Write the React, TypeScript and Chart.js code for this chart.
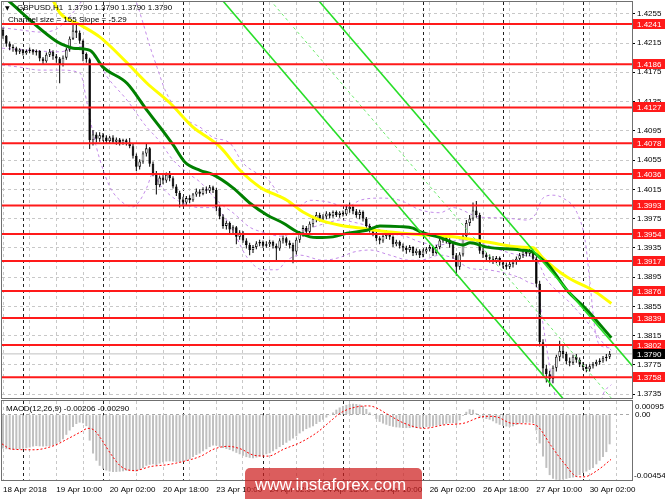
import React, { useEffect, useRef } from "react";
import { Chart, registerables } from "chart.js";

Chart.register(...registerables);

// ---------------- data ----------------
const firstOpen = 1.4233;
const closes = [
  1.4225, 1.4214, 1.4210, 1.4208, 1.4203, 1.4206, 1.4201, 1.4204, 1.4206, 1.4202,
  1.4204, 1.4194, 1.4190, 1.4199, 1.4203, 1.4197, 1.4194, 1.4186, 1.4195, 1.4206,
  1.4221, 1.4232, 1.4229, 1.4218, 1.4200, 1.4193, 1.4082, 1.4090, 1.4084, 1.4089,
  1.4086, 1.4081, 1.4086, 1.4080, 1.4083, 1.4078, 1.4082, 1.4079, 1.4074, 1.4061,
  1.4046, 1.4053, 1.4064, 1.4071, 1.4050, 1.4037, 1.4021, 1.4031, 1.4027, 1.4035,
  1.4030, 1.4019, 1.4010, 1.4001, 1.3997, 1.4003, 1.4000, 1.4008, 1.4012, 1.4009,
  1.4015, 1.4013, 1.4018, 1.4014, 1.3990, 1.3978, 1.3965, 1.3969, 1.3960, 1.3963,
  1.3950, 1.3956, 1.3945, 1.3939, 1.3932, 1.3936, 1.3941, 1.3943, 1.3938, 1.3940,
  1.3943, 1.3938, 1.3934, 1.3945, 1.3948, 1.3942, 1.3939, 1.3930, 1.3946, 1.3955,
  1.3962, 1.3957, 1.3968, 1.3975, 1.3980, 1.3975, 1.3978, 1.3982, 1.3979, 1.3984,
  1.3980, 1.3983, 1.3981, 1.3988, 1.3991, 1.3985, 1.3980, 1.3984, 1.3975, 1.3965,
  1.3960, 1.3955, 1.3948, 1.3945, 1.3951, 1.3956, 1.3950, 1.3940, 1.3943, 1.3938,
  1.3935, 1.3932, 1.3936, 1.3928, 1.3931, 1.3925, 1.3930, 1.3933, 1.3936, 1.3928,
  1.3936, 1.3945, 1.3951, 1.3946, 1.3940, 1.3925, 1.3909, 1.3926, 1.3951, 1.3969,
  1.3975, 1.3986, 1.3980, 1.3931, 1.3926, 1.3922, 1.3920, 1.3917, 1.3921, 1.3915,
  1.3912, 1.3909, 1.3913, 1.3916, 1.3920, 1.3925, 1.3930, 1.3927, 1.3931, 1.3920,
  1.3886, 1.3806, 1.3770, 1.3762, 1.3756, 1.3771, 1.3786, 1.3794, 1.3790, 1.3780,
  1.3778, 1.3786, 1.3782, 1.3776, 1.3772, 1.3769, 1.3773, 1.3776, 1.3779, 1.3781,
  1.3784, 1.3786, 1.3790,
];
const highs = [
  1.4236, 1.4226, 1.4217, 1.4213, 1.4210, 1.4208, 1.4207, 1.4206, 1.4209, 1.4207,
  1.4206, 1.4205, 1.4196, 1.4202, 1.4207, 1.4205, 1.4200, 1.4196, 1.4198, 1.4209,
  1.4224, 1.4243, 1.4240, 1.4232, 1.4220, 1.4202, 1.4195, 1.4096, 1.4093, 1.4093,
  1.4092, 1.4089, 1.4088, 1.4089, 1.4086, 1.4085, 1.4084, 1.4084, 1.4085, 1.4077,
  1.4064, 1.4056, 1.4067, 1.4078, 1.4073, 1.4053, 1.4040, 1.4034, 1.4035, 1.4038,
  1.4040, 1.4033, 1.4022, 1.4013, 1.4005, 1.4006, 1.4007, 1.4010, 1.4016, 1.4015,
  1.4018, 1.4019, 1.4021, 1.4020, 1.4017, 1.3993, 1.3981, 1.3972, 1.3971, 1.3966,
  1.3965, 1.3959, 1.3958, 1.3948, 1.3942, 1.3939, 1.3944, 1.3946, 1.3945, 1.3944,
  1.3946, 1.3945, 1.3941, 1.3948, 1.3952, 1.3950, 1.3945, 1.3942, 1.3949, 1.3958,
  1.3966, 1.3965, 1.3971, 1.3979, 1.3984, 1.3983, 1.3981, 1.3985, 1.3984, 1.3986,
  1.3986, 1.3985, 1.3986, 1.3994, 1.3997, 1.3993, 1.3988, 1.3987, 1.3986, 1.3977,
  1.3968, 1.3963, 1.3958, 1.3951, 1.3954, 1.3959, 1.3958, 1.3952, 1.3946, 1.3945,
  1.3941, 1.3938, 1.3939, 1.3937, 1.3934, 1.3933, 1.3933, 1.3936, 1.3939, 1.3938,
  1.3939, 1.3948, 1.3954, 1.3953, 1.3948, 1.3942, 1.3928, 1.3929, 1.3954, 1.3973,
  1.3980, 1.3997, 1.3999, 1.3983, 1.3935, 1.3929, 1.3926, 1.3924, 1.3924, 1.3923,
  1.3918, 1.3915, 1.3916, 1.3919, 1.3923, 1.3928, 1.3933, 1.3934, 1.3936, 1.3933,
  1.3923, 1.3890, 1.3810, 1.3775, 1.3767, 1.3774, 1.3789, 1.3808, 1.3801, 1.3793,
  1.3785, 1.3789, 1.3790, 1.3785, 1.3779, 1.3776, 1.3776, 1.3779, 1.3782, 1.3784,
  1.3787, 1.3790, 1.3794,
];
const lows = [
  1.4221, 1.4210, 1.4205, 1.4203, 1.4199, 1.4200, 1.4198, 1.4199, 1.4201, 1.4199,
  1.4198, 1.4190, 1.4186, 1.4188, 1.4196, 1.4192, 1.4188, 1.4160, 1.4183, 1.4192,
  1.4203, 1.4219, 1.4222, 1.4214, 1.4190, 1.4188, 1.4070, 1.4075, 1.4079, 1.4080,
  1.4081, 1.4077, 1.4078, 1.4077, 1.4076, 1.4075, 1.4076, 1.4075, 1.4071, 1.4057,
  1.4040, 1.4042, 1.4050, 1.4060, 1.4046, 1.4033, 1.4008, 1.4018, 1.4022, 1.4024,
  1.4026, 1.4016, 1.4006, 1.3990, 1.3992, 1.3994, 1.3996, 1.3998, 1.4005, 1.4005,
  1.4007, 1.4009, 1.4010, 1.4010, 1.3985, 1.3974, 1.3961, 1.3960, 1.3955, 1.3955,
  1.3940, 1.3946, 1.3942, 1.3934, 1.3925, 1.3928, 1.3933, 1.3937, 1.3935, 1.3935,
  1.3936, 1.3934, 1.3918, 1.3931, 1.3941, 1.3938, 1.3934, 1.3914, 1.3926, 1.3942,
  1.3950, 1.3953, 1.3954, 1.3963, 1.3970, 1.3971, 1.3972, 1.3974, 1.3975, 1.3976,
  1.3977, 1.3976, 1.3978, 1.3979, 1.3983, 1.3981, 1.3976, 1.3974, 1.3971, 1.3961,
  1.3956, 1.3951, 1.3944, 1.3940, 1.3942, 1.3947, 1.3946, 1.3936, 1.3937, 1.3934,
  1.3930, 1.3927, 1.3929, 1.3924, 1.3925, 1.3921, 1.3922, 1.3927, 1.3930, 1.3924,
  1.3926, 1.3933, 1.3942, 1.3941, 1.3935, 1.3920, 1.3897, 1.3905, 1.3923, 1.3947,
  1.3965, 1.3972, 1.3976, 1.3927, 1.3921, 1.3917, 1.3915, 1.3913, 1.3914, 1.3911,
  1.3907, 1.3905, 1.3906, 1.3908, 1.3912, 1.3917, 1.3921, 1.3923, 1.3924, 1.3916,
  1.3881, 1.3800, 1.3760, 1.3751, 1.3745, 1.3750, 1.3766, 1.3780, 1.3784, 1.3776,
  1.3773, 1.3775, 1.3778, 1.3772, 1.3768, 1.3765, 1.3766, 1.3770, 1.3773, 1.3775,
  1.3778, 1.3780, 1.3783,
];

const levels = [1.4241, 1.4186, 1.4127, 1.4078, 1.4036, 1.3993, 1.3954, 1.3917, 1.3876, 1.3839, 1.3802, 1.3758];
const lastPrice = 1.379;
const yTicks = [1.4255, 1.4215, 1.4175, 1.4135, 1.4095, 1.4055, 1.4015, 1.3975, 1.3935, 1.3895, 1.3855, 1.3815, 1.3775, 1.3735];
const timeLabels = ["18 Apr 2018", "19 Apr 10:00", "20 Apr 02:00", "20 Apr 18:00", "23 Apr 10:00", "24 Apr 02:00", "24 Apr 18:00", "25 Apr 10:00", "26 Apr 02:00", "26 Apr 18:00", "27 Apr 10:00", "30 Apr 02:00"];
const timeLabelBars = [0, 16, 32, 48, 64, 80, 96, 112, 128, 144, 160, 176];
const daySeparators = [6, 30, 54, 78, 102, 126, 150, 174];

// moving averages [bar, price]
const greenMA = [
  [-0.3, 1.4281], [2.1, 1.4271], [16.5, 1.4216], [19.5, 1.421], [21, 1.4208], [26.1, 1.4205], [30, 1.4182],
  [37.2, 1.416], [43.2, 1.4123], [47.1, 1.41], [51, 1.4076], [54.6, 1.4052], [59.1, 1.4041], [63, 1.4035],
  [69, 1.4017], [74.1, 1.3996], [79.2, 1.398], [84, 1.3969], [88.2, 1.3957], [92.1, 1.395], [94.2, 1.3949],
  [99, 1.395], [103.2, 1.3955], [109.2, 1.3959], [113.1, 1.3965], [119.1, 1.3964], [123, 1.3962], [125.1, 1.3957],
  [131.1, 1.3949], [138, 1.3939], [140.1, 1.3942], [145.2, 1.3936], [155.1, 1.3932], [159, 1.3929], [162, 1.3918],
  [163.2, 1.3914], [169.2, 1.3877], [175.2, 1.385], [182.5, 1.3812],
];
const yellowMA = [
  [14.1, 1.4282], [17.1, 1.4256], [23.1, 1.424], [29.1, 1.4223], [37.2, 1.4188], [43.2, 1.416], [50.1, 1.4133],
  [57, 1.41], [59.1, 1.4093], [65.1, 1.4073], [71.1, 1.4041], [77.1, 1.4018], [85.2, 1.4], [90, 1.3984],
  [95.1, 1.3973], [101.1, 1.3966], [107.1, 1.3962], [115.2, 1.3957], [125.1, 1.3953], [135, 1.395], [145.2, 1.3943],
  [155.1, 1.3936], [159, 1.3935], [162, 1.3921], [169.2, 1.3895], [177, 1.3877], [182.5, 1.3859],
];
// bollinger bands [bar, price]
const bbUpper = [
  [-0.3, 1.4236], [5.1, 1.4233], [11.1, 1.423], [15.6, 1.4233], [18.6, 1.4244], [21.6, 1.426], [24.6, 1.4277],
  [29.1, 1.4288], [35.1, 1.4285], [38.1, 1.4278], [39.6, 1.4274], [41.7, 1.4247], [44.1, 1.421], [46.2, 1.4182],
  [48.6, 1.4151], [52.2, 1.4123], [56.1, 1.4107], [59.1, 1.41], [63, 1.4086], [68.1, 1.4078], [72, 1.4051],
  [76.2, 1.4037], [79.2, 1.403], [83.1, 1.4007], [88.2, 1.3991], [92.1, 1.4], [97.2, 1.3998], [103.2, 1.3991],
  [107.1, 1.4], [113.1, 1.4003], [119.1, 1.4], [125.1, 1.3987], [131.1, 1.3983], [135, 1.399], [143.1, 1.3977],
  [150, 1.3976], [157.2, 1.3973], [159.6, 1.398], [162, 1.4003], [165, 1.4007], [168, 1.4003], [172.2, 1.3983],
  [174.6, 1.3946], [176.1, 1.3887], [177.6, 1.3823], [179.1, 1.3802], [182.5, 1.3798],
];
const bbMiddle = [
  [-0.3, 1.4208], [8.1, 1.4205], [17.1, 1.4203], [23.1, 1.421], [26.1, 1.4203], [29.1, 1.4185], [31.2, 1.4169],
  [37.2, 1.4137], [42.6, 1.4103], [47.1, 1.408], [51, 1.4055], [56.1, 1.4035], [59.1, 1.4025], [65.1, 1.3996],
  [69, 1.3983], [74.1, 1.3963], [79.2, 1.3955], [83.1, 1.3951], [87, 1.3955], [92.1, 1.3962], [97.2, 1.3969],
  [101.1, 1.3973], [106.2, 1.3969], [111, 1.3963], [116.1, 1.3955], [121.2, 1.395], [125.1, 1.3943], [131.1, 1.3939],
  [137.1, 1.3946], [143.1, 1.3942], [149.1, 1.3932], [155.1, 1.3925], [159.6, 1.3921], [163.2, 1.3891],
  [169.2, 1.3864], [175.2, 1.3834], [180.6, 1.3802], [182.5, 1.3795],
];
const bbLower = [
  [-0.3, 1.4185], [5.1, 1.4182], [11.1, 1.4178], [17.1, 1.4178], [23.1, 1.4174], [25.2, 1.4133], [27, 1.4092],
  [29.1, 1.4055], [32.1, 1.4018], [35.1, 1.4], [39, 1.3991], [41.1, 1.4], [43.2, 1.4018], [45, 1.4037],
  [47.1, 1.4021], [50.1, 1.4007], [54, 1.3996], [59.1, 1.399], [63, 1.399], [68.1, 1.3966], [73.2, 1.3922],
  [78, 1.3905], [82.2, 1.3905], [85.2, 1.3918], [89.1, 1.3925], [96, 1.3918], [101.1, 1.3922], [105, 1.3929],
  [110.1, 1.3932], [116.1, 1.3925], [122.1, 1.3918], [125.1, 1.3918], [131.1, 1.3925], [135, 1.3921],
  [140.1, 1.3907], [145.2, 1.3905], [149.1, 1.3902], [155.1, 1.3894], [158.1, 1.3887], [160.2, 1.3881],
  [161.7, 1.384], [163.2, 1.3795], [164.7, 1.3754], [165.9, 1.3727], [171.6, 1.3672], [177.6, 1.3686],
  [180, 1.3734], [182.5, 1.3748],
];
// regression channel anchors [bar, price]
const channelUpper = [[94.5, 1.4274], [197.2, 1.3729]];
const channelMiddle = [[80.1, 1.4274], [182.6, 1.3729]];
const channelLower = [[65.7, 1.4274], [168, 1.3729]];

// MACD
const macd = [
  -0.00235, -0.0024, -0.00242, -0.00243, -0.00242, -0.0024, -0.00237, -0.00233, -0.00228, -0.00222,
  -0.00218, -0.0022, -0.00222, -0.0022, -0.00218, -0.00215, -0.00205, -0.0019, -0.0017,
  -0.0014, -0.0011, -0.00085, -0.00065, -0.00055, -0.0006, -0.0008,
  -0.0018, -0.0027, -0.0032, -0.00355, -0.00375, -0.00388, -0.00395, -0.00398, -0.00398, -0.00396,
  -0.00393, -0.0039, -0.00388, -0.00392, -0.00395, -0.00385, -0.0037, -0.00355, -0.00348, -0.00345,
  -0.0035, -0.0034, -0.0033, -0.00325, -0.00324, -0.00326, -0.00328, -0.0033, -0.00328, -0.00322,
  -0.0031, -0.00295, -0.0028, -0.0027, -0.00255, -0.0024, -0.00225, -0.00215, -0.00215, -0.00225,
  -0.00232, -0.00238, -0.00245, -0.00255, -0.00265, -0.00275, -0.00285, -0.00295, -0.003, -0.00302,
  -0.00298, -0.0029, -0.00282, -0.00275, -0.00268, -0.00255, -0.0024, -0.00225, -0.0021, -0.00195,
  -0.0018, -0.00165, -0.0015, -0.0013, -0.00115, -0.001, -0.0009, -0.0008, -0.00065, -0.0005,
  -0.00035, -0.0002, -0.00005, 0.00015, 0.00035, 0.0005, 0.0006, 0.00068, 0.00074, 0.00076,
  0.00074, 0.0007, 0.0006, 0.0004, 0.00015, -0.00005, -0.0003, -0.0005, -0.00062, -0.0007,
  -0.00078, -0.00084, -0.00088, -0.0009, -0.00092, -0.00093, -0.00092, -0.0009, -0.00092, -0.0009,
  -0.00088, -0.00085, -0.00083, -0.0008, -0.00076, -0.00072, -0.00068, -0.00064, -0.0006, -0.00058,
  -0.00065, -0.0004, -0.0001, 0.0002, 0.00038, 0.00035, 0.0001, -0.0002, -0.00025, -0.0003,
  -0.00035, -0.00045, -0.0006, -0.0007, -0.00078, -0.00082, -0.00085, -0.0008, -0.00072, -0.00062,
  -0.00058, -0.00056, -0.00055, -0.0006, -0.0011, -0.002, -0.0029, -0.0037, -0.0042, -0.00445,
  -0.00452, -0.00454, -0.0045, -0.00446, -0.0044, -0.00436, -0.00432, -0.0042, -0.00405, -0.00395,
  -0.00382, -0.0037, -0.00345, -0.0032, -0.00295, -0.0026, -0.00206,
];
const macdSignal = [
  [-0.3, -0.00203], [2.4, -0.00239], [9.3, -0.00244], [15.3, -0.00215], [19.5, -0.00167], [23.4, -0.00119],
  [25.5, -0.00095], [27.3, -0.00107], [29.4, -0.00167], [32.4, -0.00275], [35.4, -0.0036], [39.3, -0.00389],
  [44.4, -0.0036], [49.5, -0.00347], [54.3, -0.00324], [59.4, -0.00288], [63.3, -0.00239], [67.5, -0.0022],
  [71.4, -0.00239], [75.3, -0.00282], [79.5, -0.00288], [84.3, -0.00239], [89.4, -0.00191], [94.5, -0.00119],
  [98.4, -0.00042], [101.4, 0.00014], [105.3, 0.0005], [109.5, 0.00061], [111.3, 0.00054], [115.5, 0.00001],
  [120.3, -0.00059], [126.3, -0.00095], [132.3, -0.00071], [138.3, -0.00059], [142.5, -0.00022], [145.5, -0.00011],
  [148.5, -0.00018], [152.4, -0.00059], [158.4, -0.00066], [160.5, -0.00083], [164.4, -0.00215], [168.3, -0.00336],
  [172.5, -0.00432], [174.3, -0.00432], [178.5, -0.00384], [182.4, -0.00311],
];
const macdTop = 0.00095;
const macdBottom = -0.00454;
const macdTitle = "MACD(12,26,9) -0.00206 -0.00290";
const headerText = "GBPUSD,H1  1.3790 1.3790 1.3790 1.3790";
const channelText = "Channel size = 155 Slope = -5.29";
const watermark = "www.instaforex.com";

// ---------------- config ----------------
const X_MIN = -0.3;
const X_MAX = 188.7;
const PRICE_MIN = 1.37297;
const PRICE_MAX = 1.42711;
const FONT = '"Liberation Sans", Arial, sans-serif';

const opens = closes.map((c, i) => (i === 0 ? firstOpen : closes[i - 1]));

function gridBars() {
  const s = new Set<number>(daySeparators);
  for (let b = 0; b < X_MAX; b += 8) s.add(b);
  return Array.from(s).sort((a, b) => a - b);
}

function noPad(s: any) {
  s.paddingTop = 0;
  s.paddingBottom = 0;
  s.paddingLeft = 0;
  s.paddingRight = 0;
}

function xScale(showLabels: boolean): any {
  return {
    type: "linear",
    min: X_MIN,
    max: X_MAX,
    offset: false,
    afterBuildTicks: (scale: any) => {
      scale.ticks = gridBars().map((v) => ({ value: v }));
    },
    afterFit: (scale: any) => {
      scale.height = showLabels ? 19 : 0;
      noPad(scale);
    },
    grid: {
      offset: false,
      drawTicks: false,
      lineWidth: 1,
      color: (ctx: any) => (ctx.tick && daySeparators.includes(ctx.tick.value) ? "#202020" : "#c8c8c8"),
    },
    border: { display: false, dash: [3, 3] },
    ticks: {
      display: showLabels,
      autoSkip: false,
      maxRotation: 0,
      minRotation: 0,
      align: "start",
      padding: 5,
      color: "#000",
      font: { family: FONT, size: 8 },
      callback: (v: any) => {
        const k = timeLabelBars.indexOf(Number(v));
        return k >= 0 ? timeLabels[k] : "";
      },
    },
  };
}

function lineDs(pts: number[][], color: string, width: number, dash: number[], order: number, smooth = true): any {
  return {
    type: "line",
    data: pts.map(([x, y]) => ({ x, y })),
    borderColor: color,
    borderWidth: width,
    borderDash: dash,
    pointRadius: 0,
    fill: false,
    order,
    clip: 0,
    cubicInterpolationMode: smooth ? "monotone" : "default",
    tension: smooth ? 0.4 : 0,
  };
}

function mainConfig(): any {
  const idx = closes.map((_, i) => i);
  const datasets: any[] = [];
  datasets.push(lineDs([[X_MIN, lastPrice], [X_MAX, lastPrice]], "#c0c0c0", 1, [], 100, false));
  datasets.push(lineDs(bbUpper, "rgb(196,140,232)", 1, [3, 3], 90));
  datasets.push(lineDs(bbMiddle, "rgb(196,140,232)", 1, [3, 3], 89));
  datasets.push(lineDs(bbLower, "rgb(196,140,232)", 1, [3, 3], 88));
  datasets.push({
    type: "bar",
    data: idx.map((i) => ({ x: i, y: [Math.min(lows[i], opens[i], closes[i]), Math.max(highs[i], opens[i], closes[i])] })),
    backgroundColor: "#000",
    borderWidth: 0,
    grouped: false,
    maxBarThickness: 1,
    order: 80,
  });
  datasets.push({
    type: "bar",
    data: idx.map((i) => ({ x: i, y: [opens[i], closes[i]] })),
    backgroundColor: (ctx: any) => (closes[ctx.dataIndex] >= opens[ctx.dataIndex] ? "#ffffff" : "#000000"),
    borderColor: "#000",
    borderWidth: 0.8,
    borderSkipped: false,
    grouped: false,
    barPercentage: 1,
    categoryPercentage: 0.78,
    minBarLength: 1,
    order: 79,
  });
  datasets.push(lineDs(yellowMA, "rgb(255,255,0)", 3, [], 70));
  datasets.push(lineDs(greenMA, "rgb(0,128,0)", 3, [], 69));
  datasets.push(lineDs(channelMiddle, "rgb(110,235,110)", 1, [3, 3], 61, false));
  datasets.push(lineDs(channelUpper, "rgb(40,222,40)", 1.6, [], 60, false));
  datasets.push(lineDs(channelLower, "rgb(40,222,40)", 1.6, [], 59, false));
  levels.forEach((p, k) => datasets.push(lineDs([[X_MIN, p], [X_MAX, p]], "#ff1a1a", 2, [], 40 - k, false)));

  const decor = {
    id: "mainDecor",
    afterDraw(chart: any) {
      const { ctx, chartArea: a, scales } = chart;
      const ys = scales.y;
      ctx.save();
      ctx.strokeStyle = "#707070";
      ctx.lineWidth = 1;
      ctx.strokeRect(a.left - 0.5, a.top - 0.5, a.right - a.left + 1, a.bottom - a.top + 1);
      ctx.font = `8px ${FONT}`;
      ctx.textBaseline = "middle";
      ctx.textAlign = "left";
      levels.forEach((p) => {
        const y = Math.round(ys.getPixelForValue(p));
        ctx.fillStyle = "#ff1a1a";
        ctx.fillRect(a.right + 1, y - 5, 33, 10);
        ctx.fillStyle = "#fff";
        ctx.fillText(p.toFixed(4), a.right + 5, y + 0.5);
      });
      const yl = Math.round(ys.getPixelForValue(lastPrice));
      ctx.fillStyle = "#000";
      ctx.fillRect(a.right + 1, yl - 5, 33, 10);
      ctx.fillStyle = "#fff";
      ctx.fillText(lastPrice.toFixed(4), a.right + 5, yl + 0.5);
      // header texts
      ctx.fillStyle = "#000";
      ctx.font = `6px "DejaVu Sans", sans-serif`;
      ctx.fillText("\u25BC", a.left + 3, a.top + 6);
      ctx.font = `8px ${FONT}`;
      ctx.fillText(headerText, a.left + 15, a.top + 6);
      ctx.fillText(channelText, a.left + 6, a.top + 18);
      ctx.restore();
    },
  };

  return {
    type: "line",
    data: { datasets },
    options: {
      responsive: false,
      animation: false,
      events: [],
      layout: { padding: { left: 2, top: 2, right: 0, bottom: 1 } },
      plugins: { legend: { display: false }, tooltip: { enabled: false } },
      scales: {
        x: xScale(false),
        y: {
          type: "linear",
          position: "right",
          min: PRICE_MIN,
          max: PRICE_MAX,
          afterBuildTicks: (s: any) => {
            s.ticks = yTicks.map((v) => ({ value: v }));
          },
          afterFit: (s: any) => {
            s.width = 33;
            noPad(s);
          },
          grid: { color: "#c8c8c8", drawTicks: true, tickLength: 3, tickColor: "#000", tickWidth: 1, tickBorderDash: [1, 0] },
          border: { display: false, dash: [3, 3] },
          ticks: { color: "#000", font: { family: FONT, size: 8 }, padding: 2, callback: (v: any) => Number(v).toFixed(4) },
        },
      },
    },
    plugins: [decor],
  };
}

function macdConfig(): any {
  const idx = macd.map((_, i) => i);
  const decor = {
    id: "macdDecor",
    afterDraw(chart: any) {
      const { ctx, chartArea: a, scales } = chart;
      const ys = scales.y;
      ctx.save();
      ctx.strokeStyle = "#707070";
      ctx.lineWidth = 1;
      ctx.strokeRect(a.left - 0.5, a.top - 0.5, a.right - a.left + 1, a.bottom - a.top + 1);
      ctx.fillStyle = "#000";
      ctx.font = `8px ${FONT}`;
      ctx.textBaseline = "middle";
      ctx.textAlign = "left";
      ctx.fillText(macdTitle, a.left + 4, a.top + 8);
      ctx.fillText(macdTop.toFixed(5), a.right + 3, ys.getPixelForValue(macdTop) + 5.5);
      ctx.fillText("0.00", a.right + 3, ys.getPixelForValue(0) + 0.5);
      ctx.fillText(macdBottom.toFixed(5), a.right + 2, ys.getPixelForValue(macdBottom) - 4);
      // watermark
      const bx = 245, bw = 177, by = 69, r = 5;
      ctx.beginPath();
      ctx.moveTo(bx, by + 40);
      ctx.lineTo(bx, by + r);
      ctx.arcTo(bx, by, bx + r, by, r);
      ctx.lineTo(bx + bw - r, by);
      ctx.arcTo(bx + bw, by, bx + bw, by + r, r);
      ctx.lineTo(bx + bw, by + 40);
      ctx.closePath();
      ctx.fillStyle = "rgba(205,30,30,0.72)";
      ctx.fill();
      ctx.fillStyle = "#ffffff";
      ctx.font = `17px ${FONT}`;
      ctx.textBaseline = "alphabetic";
      ctx.fillText(watermark, bx + 10, by + 22);
      ctx.restore();
    },
  };
  return {
    type: "line",
    data: {
      datasets: [
        {
          type: "bar",
          data: idx.map((i) => ({ x: i, y: macd[i] })),
          backgroundColor: "#c0c0c0",
          borderWidth: 0,
          grouped: false,
          maxBarThickness: 2,
          order: 2,
        },
        lineDs(macdSignal, "#ff0000", 1, [2, 2], 1),
      ],
    },
    options: {
      responsive: false,
      animation: false,
      events: [],
      layout: { padding: { left: 2, top: 2, right: 0, bottom: 0 } },
      plugins: { legend: { display: false }, tooltip: { enabled: false } },
      scales: {
        x: xScale(true),
        y: {
          type: "linear",
          position: "right",
          min: macdBottom,
          max: macdTop,
          afterBuildTicks: (s: any) => {
            s.ticks = [{ value: 0 }];
          },
          afterFit: (s: any) => {
            s.width = 33;
            noPad(s);
          },
          grid: { color: "#a8a8a8", drawTicks: false },
          border: { display: false, dash: [3, 3] },
          ticks: { display: false },
        },
      },
    },
    plugins: [decor],
  };
}

export default function App() {
  const mainRef = useRef<HTMLCanvasElement>(null);
  const macdRef = useRef<HTMLCanvasElement>(null);
  useEffect(() => {
    const c1 = new Chart(mainRef.current as HTMLCanvasElement, mainConfig());
    const c2 = new Chart(macdRef.current as HTMLCanvasElement, macdConfig());
    return () => {
      c1.destroy();
      c2.destroy();
    };
  }, []);
  return (
    <div style={{ position: "fixed", left: 0, top: 0, width: 665, height: 499, background: "#fff", overflow: "hidden" }}>
      <canvas ref={mainRef} width={665} height={399} style={{ position: "absolute", left: 0, top: 0, width: 665, height: 399 }} />
      <canvas ref={macdRef} width={665} height={100} style={{ position: "absolute", left: 0, top: 399, width: 665, height: 100 }} />
    </div>
  );
}
